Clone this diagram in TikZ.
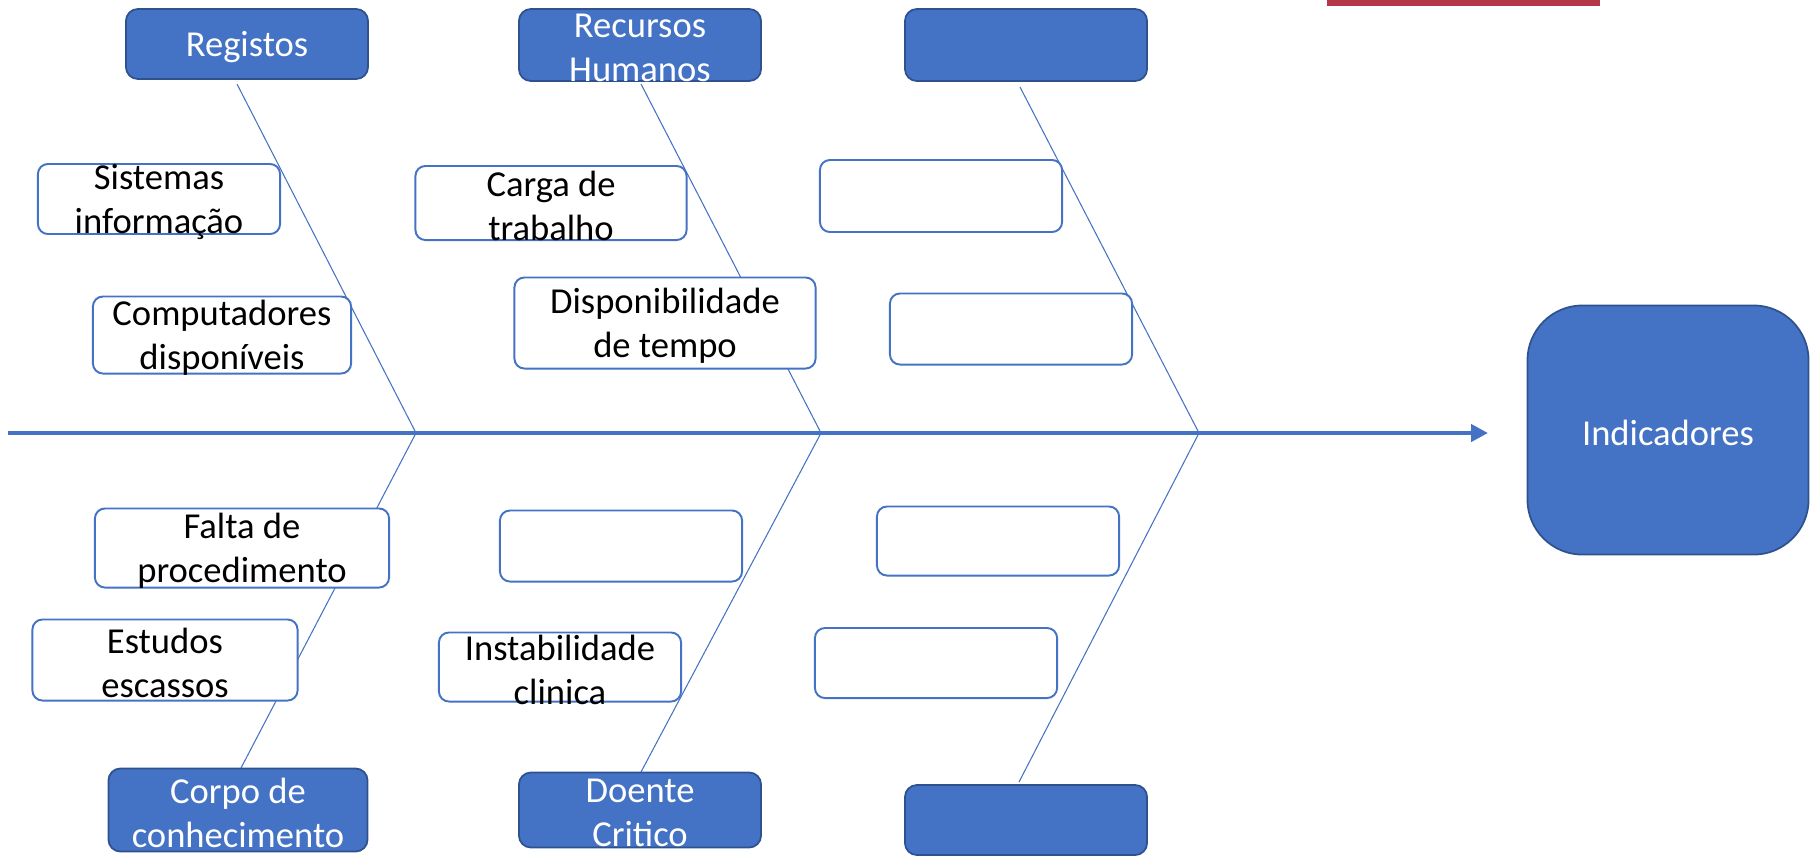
\documentclass[tikz,border=0pt]{standalone}
\usepackage{fontspec}
\setmainfont{Carlito}
\usetikzlibrary{arrows.meta}
\definecolor{acc}{RGB}{68,114,196}
\definecolor{accdark}{RGB}{47,82,143}
\definecolor{barred}{RGB}{181,55,74}
\tikzset{
  head/.style={draw=accdark,line width=0.5pt,fill=acc,rounded corners=0.12cm,
    minimum width=2.42cm,minimum height=0.7cm,inner sep=0pt},
  cause/.style={draw=acc,line width=0.55pt,fill=white,rounded corners=0.1cm,
    minimum width=2.42cm,minimum height=0.7cm,inner sep=0pt},
  bone/.style={draw=acc,line width=0.3pt},
  spine/.style={draw=acc,line width=1.4pt,-{Triangle[length=4.8pt,width=4.8pt]}},
  txt/.style={align=center,inner sep=0pt,yshift=-0.9pt,font=\fontsize{10.4}{12.5}\selectfont},
  wtxt/.style={txt,text=white}
}
\begin{document}
\begin{tikzpicture}[x=0.01cm,y=-0.01cm]
\useasboundingbox (0,0) rectangle (1810,857);
\pgfmathsetmacro{\ay}{433}
%bar
\fill[barred] (1327,0) rectangle (1600,6);
%spine
\coordinate (s0) at (8,\ay);
\coordinate (tip) at (1488,\ay);
\draw[spine] (s0)--(tip);
\node[head,minimum width=2.81cm,minimum height=2.49cm,rounded corners=0.55cm,
  label={[wtxt]center:Indicadores}] (ind) at (1668,430) {};
%bones
\coordinate (j1) at (416,\ay);
\coordinate (j2) at (821,\ay);
\coordinate (j3) at (1199,\ay);
\coordinate (t1) at (237,84);
\coordinate (t2) at (641,84);
\coordinate (t3) at (1020,87);
\coordinate (b1) at (241,768);
\coordinate (b2) at (641,772);
\coordinate (b3) at (1019,782);
\draw[bone] (t1)--(j1)--(b1);
\draw[bone] (t2)--(j2)--(b2);
\draw[bone] (t3)--(j3)--(b3);
%heads
\node[head,label={[wtxt]center:Registos}] (reg) at (247,44) {};
\node[head,minimum height=0.72cm,label={[wtxt]center:{Recursos\\Humanos}}] (rh) at (640,45) {};
\node[head,minimum height=0.72cm] (h3) at (1026,45) {};
\node[head,minimum width=2.59cm,minimum height=0.83cm,
  label={[wtxt]center:{Corpo de\\conhecimento}}] (cc) at (238,810) {};
\node[head,minimum height=0.75cm,label={[wtxt]center:{Doente\\Critico}}] (dc) at (640,810) {};
\node[head,minimum height=0.7cm] (h6) at (1026,820) {};
%causes
\node[cause,label={[txt]center:{Sistemas\\informação}}] (sis) at (159,199) {};
\node[cause,minimum width=2.58cm,minimum height=0.77cm,
  label={[txt]center:{Computadores\\disponíveis}}] (comp) at (222,335) {};
\node[cause,minimum width=2.71cm,minimum height=0.74cm,
  label={[txt]center:{Carga de\\trabalho}}] (carga) at (551,203) {};
\node[cause,minimum width=3.01cm,minimum height=0.91cm,
  label={[txt]center:{Disponibilidade\\de tempo}}] (disp) at (665,323) {};
\node[cause,minimum height=0.72cm] (e1) at (941,196) {};
\node[cause,minimum height=0.71cm] (e2) at (1011,329) {};
\node[cause,minimum width=2.94cm,minimum height=0.79cm,
  label={[txt]center:{Falta de\\procedimento}}] (falta) at (242,548) {};
\node[cause,minimum height=0.71cm] (e3) at (621,546) {};
\node[cause,minimum height=0.69cm] (e4) at (998,541) {};
\node[cause,minimum width=2.65cm,minimum height=0.81cm,
  label={[txt]center:{Estudos\\escassos}}] (est) at (165,660) {};
\node[cause,minimum height=0.69cm,label={[txt]center:{Instabilidade\\clinica}}] (inst) at (560,667) {};
\node[cause] (e5) at (936,663) {};
\end{tikzpicture}
\end{document}
